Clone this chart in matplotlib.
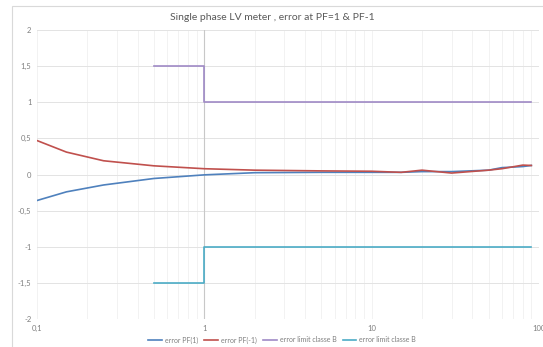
import numpy as np
import matplotlib
matplotlib.use('Agg')
import matplotlib.pyplot as plt
from matplotlib.patches import Rectangle
from matplotlib.ticker import FixedLocator, FuncFormatter, LogLocator, NullFormatter

plt.rcParams['font.family'] = ['Lato', 'DejaVu Sans']

# measured data
x_err = [0.1, 0.15, 0.25, 0.5, 1, 2, 5, 10, 15, 20, 30, 50, 60, 80, 90]
err_pf1 = [-0.36, -0.24, -0.145, -0.055, -0.005, 0.025, 0.03, 0.03, 0.03, 0.04, 0.04, 0.06, 0.095, 0.11, 0.125]
err_pfm1 = [0.47, 0.31, 0.19, 0.12, 0.08, 0.06, 0.05, 0.045, 0.03, 0.06, 0.02, 0.06, 0.08, 0.13, 0.125]

x_lim = [0.5, 1, 1, 90]
lim_up = [1.5, 1.5, 1.0, 1.0]
lim_low = [-1.5, -1.5, -1.0, -1.0]

labels = ['error PF(1)', 'error PF(-1)', 'error limit classe B', 'error limit classe B']
colors = ['#4F81BD', '#C0504D', '#9F8AC6', '#4BACC6']

W, H = 543, 347
fig = plt.figure(figsize=(W / 100, H / 100), dpi=100)

# chart area border
fig.patches.append(Rectangle((12 / W, -0.1), 1.0, 1 - 6 / H + 0.1, transform=fig.transFigure,
                             fill=False, edgecolor='#D9D9D9', lw=0.8))

ax = fig.add_axes([37 / W, 1 - 319 / H, (539 - 37) / W, (319 - 30) / H])
ax.set_xscale('log')
ax.set_xlim(0.1, 100)
ax.set_ylim(-2, 2)

ax.plot(x_err, err_pf1, color=colors[0], lw=1.2, label=labels[0], zorder=3)
ax.plot(x_err, err_pfm1, color=colors[1], lw=1.2, label=labels[1], zorder=3)
ax.plot(x_lim, lim_up, color=colors[2], lw=1.2, label=labels[2], zorder=3)
ax.plot(x_lim, lim_low, color=colors[3], lw=1.2, label=labels[3], zorder=3)

# vertical axis line crosses at x=1
ax.axvline(1, color='#C8C8C8', lw=0.8, zorder=2)

ax.xaxis.set_major_locator(FixedLocator([0.1, 1, 10, 100]))
ax.xaxis.set_minor_locator(LogLocator(base=10, subs=np.arange(2, 10)))
ax.xaxis.set_minor_formatter(NullFormatter())
ax.yaxis.set_major_locator(FixedLocator(np.arange(-2, 2.01, 0.5)))

def comma(v, pos):
    s = ('%g' % v).replace('.', ',')
    return s

ax.xaxis.set_major_formatter(FuncFormatter(comma))
ax.yaxis.set_major_formatter(FuncFormatter(comma))

ax.grid(True, which='major', axis='y', color='#E3E3E3', lw=0.7)
ax.grid(True, which='both', axis='x', color='#F0F0F0', lw=0.6)
ax.set_axisbelow(True)
for s in ax.spines.values():
    s.set_visible(False)
ax.tick_params(which='both', length=0, labelsize=5.5, labelcolor='#7F7F7F', pad=4)

fig.text(272 / W, 1 - 18 / H, 'Single phase LV meter , error at PF=1 & PF-1',
         ha='center', va='center', fontsize=7.5, color='#595959')

fig.legend(loc='center', bbox_to_anchor=(282 / W, 1 - 340 / H), ncol=4, frameon=False,
           fontsize=5, labelcolor='#7F7F7F', handlelength=2, columnspacing=0.9, handletextpad=0.4)

fig.savefig('out.png', dpi=100)
